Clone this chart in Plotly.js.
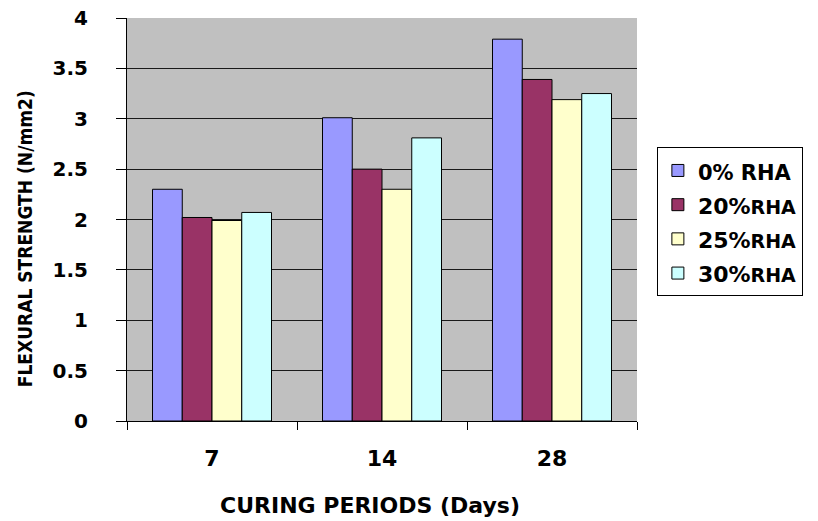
<!DOCTYPE html>
<html>
<head>
<meta charset="utf-8">
<script src="https://cdn.plot.ly/plotly-3.0.1.min.js"></script>
<style>html,body{margin:0;padding:0;background:#fff;}#chart{width:818px;height:521px;}</style>
</head>
<body>
<div id="chart"></div>
<script>
const categories = ["7", "14", "28"];
const seriesNames = ["0% RHA", "20%RHA", "25%RHA", "30%RHA"];
const rha0 = [2.30, 3.01, 3.79];
const rha20 = [2.02, 2.50, 3.39];
const rha25 = [1.99, 2.30, 3.19];
const rha30 = [2.07, 2.81, 3.25];
const yTicks = [0, 0.5, 1, 1.5, 2, 2.5, 3, 3.5, 4];
const xTitle = "CURING PERIODS (Days)";
const yTitle = "FLEXURAL STRENGTH (N/mm2)";

const colors = ["#9999ff", "#993366", "#ffffcc", "#ccffff"];
const values = [rha0, rha20, rha25, rha30];
const font = "Verdana, 'DejaVu Sans', sans-serif";

function legendLabel(name) {
  const m = name.match(/^(\d+%)(\s?)(RHA)$/);
  if (!m) return name;
  if (m[2]) return '<span style="font-size:21px">' + name + '</span>';
  return '<span style="font-size:22px">' + m[1] + '</span><span style="font-size:19px">' + m[3] + '</span>';
}

const traces = values.map((v, i) => ({
  type: "bar",
  name: legendLabel(seriesNames[i]),
  x: categories,
  y: v,
  marker: {color: colors[i], line: {color: "#000", width: 1}},
  hoverinfo: "skip"
}));

const layout = {
  width: 818, height: 521,
  margin: {l: 127, r: 181, t: 18, b: 100},
  paper_bgcolor: "#fff",
  plot_bgcolor: "#c0c0c0",
  barmode: "group",
  bargap: 0.3,
  bargroupgap: 0,
  showlegend: true,
  legend: {
    x: 1.039, y: 0.679, xanchor: "left", yanchor: "top",
    bgcolor: "#fff", bordercolor: "#000", borderwidth: 1,
    font: {family: font, size: 24, color: "#000", weight: "bold"},
    traceorder: "normal",
    itemwidth: 30
  },
  xaxis: {
    type: "category",
    tickson: "boundaries",
    ticks: "outside", ticklen: 8, tickcolor: "#000",
    showline: true, linecolor: "#000", linewidth: 1,
    tickfont: {family: font, size: 22, color: "#000", weight: "bold"},
    showgrid: false,
    ticklabelstandoff: 18
  },
  yaxis: {
    range: [0, 4],
    tickvals: yTicks,
    ticktext: yTicks.map(String),
    ticks: "outside", ticklen: 10, tickcolor: "#000",
    showline: true, linecolor: "#000", linewidth: 1,
    showgrid: true, gridcolor: "#1a1a1a", gridwidth: 1,
    zeroline: false,
    tickfont: {family: font, size: 20, color: "#000", weight: "bold"},
    ticklabelstandoff: 24
  },
  annotations: [{
    text: yTitle,
    xref: "paper", yref: "paper", x: -0.2, y: 0.451,
    xanchor: "center", yanchor: "middle", textangle: -90, showarrow: false,
    font: {family: "'Liberation Sans Narrow', 'DejaVu Sans Condensed', sans-serif", size: 19, color: "#000", weight: "bold"}
  }, {
    text: xTitle,
    xref: "paper", yref: "paper", x: 0.476, y: -0.209,
    xanchor: "center", yanchor: "middle", showarrow: false,
    font: {family: font, size: 22, color: "#000", weight: "bold"}
  }]
};

Plotly.newPlot("chart", traces, layout, {displayModeBar: false, staticPlot: true});
</script>
</body>
</html>
